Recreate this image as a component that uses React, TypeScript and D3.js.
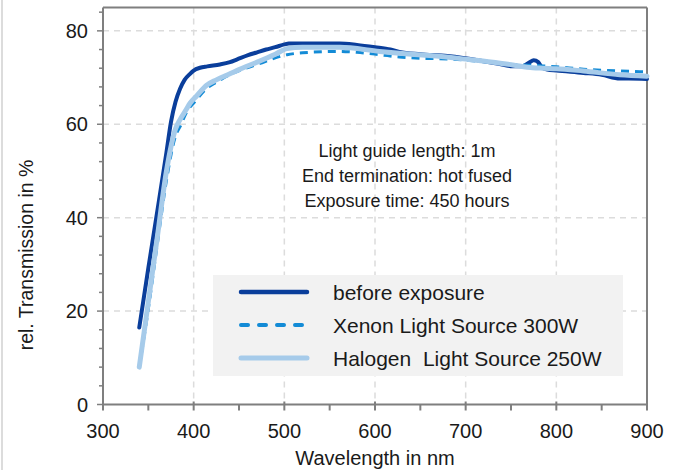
import React from "react";
import * as d3 from "d3";

const wavelengthsDark = [340, 350, 360, 370, 375, 380, 385, 390, 396, 400, 407, 415, 429, 440, 448, 460, 470, 480, 490, 500, 505, 520, 540, 561, 580, 600, 617, 627, 650, 680, 697, 720, 740, 752, 762, 770, 775, 780, 784, 790, 800, 830, 850, 870, 880, 900];
const beforeExposure = [16.5, 29.2, 41.5, 54, 60.5, 64.8, 67.6, 69.5, 70.8, 71.5, 72.1, 72.4, 72.8, 73.3, 73.9, 74.8, 75.4, 76, 76.5, 77.1, 77.3, 77.3, 77.3, 77.3, 77, 76.5, 76, 75.5, 75, 74.6, 74.2, 73.5, 72.8, 72.4, 72.4, 73.2, 73.7, 73.3, 72.2, 71.7, 71.5, 71, 70.6, 69.8, 69.8, 69.7];

const wavelengthsXenon = [340, 350, 360, 370, 380, 385, 392, 403, 414, 425, 444, 470, 503, 520, 561, 580, 605, 627, 697, 752, 785, 800, 830, 870, 900];
const xenon300W = [8, 20.5, 34.5, 48, 57.5, 59.5, 62.5, 65.2, 67.6, 69, 71, 72.8, 74.9, 75.3, 75.6, 75.4, 74.9, 74.4, 73.8, 72.8, 72.5, 72.3, 71.8, 71.4, 71.2];

const wavelengthsHalogen = [340, 350, 360, 370, 380, 385, 392, 396, 403, 414, 425, 440, 450, 470, 490, 503, 520, 561, 605, 627, 660, 697, 730, 752, 774, 785, 800, 830, 870, 900];
const halogen250W = [8, 22, 36, 50, 59, 61, 63.2, 64.5, 66, 68.3, 69.5, 70.8, 71.7, 73.3, 75, 76.2, 76.5, 76.5, 75.6, 75.2, 74.7, 74, 73.3, 72.7, 72.1, 72, 71.9, 71.4, 70.6, 70.3];

const xTicks = [300, 400, 500, 600, 700, 800, 900];
const yTicks = [0, 20, 40, 60, 80];
const xMinor = d3.range(300, 901, 50);
const yMinor = d3.range(0, 85, 4);

const legendLabels = ["before exposure", "Xenon Light Source 300W", "Halogen\u00a0 Light Source 250W"];
const noteLines = ["Light guide length: 1m", "End termination: hot fused", "Exposure time: 450 hours"];

const FONT = "'Liberation Sans', Arial, sans-serif";

export default function App() {
  const W = 678, H = 470;
  const x = d3.scaleLinear().domain([300, 900]).range([103, 647]);
  const y = d3.scaleLinear().domain([0, 85]).range([404.5, 7.5]);
  const line = (xs: number[], ys: number[]) =>
    d3.line<number>().x((_, i) => x(xs[i])).y((v) => y(v)).curve(d3.curveMonotoneX)(ys) || "";

  const series = [
    { label: legendLabels[0], d: line(wavelengthsDark, beforeExposure), color: "#0a3e9b", width: 4, lwidth: 4.5, dash: undefined as string | undefined, ldash: undefined as string | undefined, cap: "round" },
    { label: legendLabels[1], d: line(wavelengthsXenon, xenon300W), color: "#138bd6", width: 3, lwidth: 4, dash: "8,6", ldash: "7,11", cap: "butt" },
    { label: legendLabels[2], d: line(wavelengthsHalogen, halogen250W), color: "#a6cbea", width: 5, lwidth: 5, dash: undefined, ldash: undefined, cap: "round" },
  ];

  const axisColor = "#7f7f7f";
  const gridColor = "#dcdcdc";

  return (
    <svg width={W} height={H} style={{ position: "absolute", left: 0, top: 0, background: "#fff" }}>
      <rect x={0} y={0} width={W} height={H} fill="#fff" />
      <line x1={2} x2={2} y1={0} y2={H} stroke="#d0d0d0" strokeWidth={1.5} />
      {xTicks.filter((t) => t > 300 && t < 900).map((t) => (
        <line key={"gx" + t} x1={x(t)} x2={x(t)} y1={y(85)} y2={y(0)} stroke={gridColor} strokeWidth={1.5} strokeDasharray="6,5" />
      ))}
      {yTicks.filter((t) => t > 0).map((t) => (
        <line key={"gy" + t} x1={x(300)} x2={x(900)} y1={y(t)} y2={y(t)} stroke={gridColor} strokeWidth={1.5} strokeDasharray="6,5" />
      ))}
      <rect x={213} y={275} width={410} height={101} fill="#f2f2f2" />
      <line x1={x(300)} x2={x(900)} y1={y(85)} y2={y(85)} stroke={axisColor} strokeWidth={2} />
      <line x1={x(900)} x2={x(900)} y1={y(85)} y2={y(0)} stroke={axisColor} strokeWidth={2} />
      <line x1={x(300)} x2={x(900)} y1={y(0)} y2={y(0)} stroke={axisColor} strokeWidth={2} />
      <line x1={x(300)} x2={x(300)} y1={y(85)} y2={y(0)} stroke={axisColor} strokeWidth={2} />
      {xMinor.map((t) => (
        <line key={"xt" + t} x1={x(t)} x2={x(t)} y1={t % 100 === 0 ? y(0) - 3 : y(0)} y2={y(0) + 6} stroke={axisColor} strokeWidth={2} />
      ))}
      {yMinor.map((t) => (
        <line key={"yt" + t} x1={t % 20 === 0 ? x(300) - 6 : x(300) - 4} x2={x(300)} y1={y(t)} y2={y(t)} stroke={axisColor} strokeWidth={1.5} />
      ))}
      {xTicks.map((t) => (
        <text key={"xl" + t} x={x(t)} y={438} textAnchor="middle" fontFamily={FONT} fontSize={20} fill="#1a1a1a">{t}</text>
      ))}
      {yTicks.map((t) => (
        <text key={"yl" + t} x={88} y={y(t) + 7} textAnchor="end" fontFamily={FONT} fontSize={20} fill="#1a1a1a">{t}</text>
      ))}
      <text x={375} y={465} textAnchor="middle" fontFamily={FONT} fontSize={20} fill="#1a1a1a">Wavelength in nm</text>
      <text transform="translate(33,255) rotate(-90)" textAnchor="middle" fontFamily={FONT} fontSize={19.5} fill="#1a1a1a">rel. Transmission in %</text>
      {series.map((s) => (
        <path key={s.label} d={s.d} fill="none" stroke={s.color} strokeWidth={s.width} strokeDasharray={s.dash} strokeLinecap={s.cap as any} strokeLinejoin="round" />
      ))}
      {noteLines.map((t, i) => (
        <text key={t} x={407} y={157 + i * 25} textAnchor="middle" fontFamily={FONT} fontSize={18} fill="#1a1a1a">{t}</text>
      ))}
      {series.map((s, i) => (
        <g key={"lg" + i}>
          <line x1={241} x2={307} y1={292 + i * 33} y2={292 + i * 33} stroke={s.color} strokeWidth={s.lwidth} strokeDasharray={s.ldash} strokeLinecap="round" />
          <text x={333} y={292 + i * 33 + 7.5} fontFamily={FONT} fontSize={21} fill="#1a1a1a" style={{ whiteSpace: "pre" }}>{s.label}</text>
        </g>
      ))}
    </svg>
  );
}
